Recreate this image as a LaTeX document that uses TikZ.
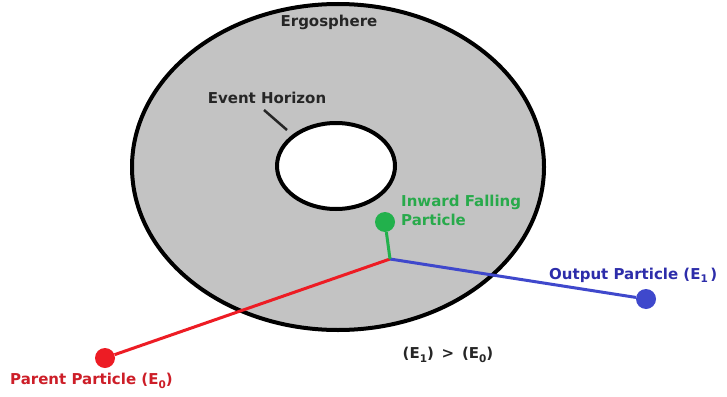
\documentclass[tikz,border=0pt]{standalone}
\usepackage{fontspec}
\setmainfont{DejaVu Sans}
\definecolor{ringgray}{RGB}{195,195,195}
\definecolor{pred}{RGB}{237,28,36}
\definecolor{pgreen}{RGB}{34,177,76}
\definecolor{pblue}{RGB}{63,72,204}
\definecolor{tred}{RGB}{205,30,40}
\definecolor{tgreen}{RGB}{40,170,75}
\definecolor{tblue}{RGB}{45,45,170}
\newcommand\subx[1]{\raisebox{-0.4ex}{\fontsize{10.5}{10.5}\selectfont #1}}
\tikzset{
  lbl/.style={font=\fontsize{15}{19}\selectfont\bfseries, inner sep=0pt},
  dot/.style={circle, minimum size=20pt, inner sep=0pt},
  ray/.style={line width=3pt},
}
\begin{document}
\begin{tikzpicture}[x=1pt,y=-1pt]
\useasboundingbox (0,0) rectangle (727,396);
\fill[white] (0,0) rectangle (727,396);
% ergosphere
\draw[line width=4pt, fill=ringgray] (338,167) ellipse [x radius=206, y radius=163];
% event horizon
\draw[line width=4pt, fill=white] (336,166) ellipse [x radius=59, y radius=43];
\node[lbl, text=black!85] (ergo) at (329,22) {Ergosphere};
\node[lbl, text=black!85] (eh) at (267,98) {Event Horizon};
\coordinate (ehp) at (287,130);
\draw[line width=2.5pt, black!85] (264,110) -- (ehp);
% particles
\coordinate (j) at (390,259);
\node[dot, fill=pgreen] (g) at (385,222) {};
\node[dot, fill=pred] (r) at (105,358) {};
\node[dot, fill=pblue] (b) at (646,299) {};
\draw[ray, pred] (j) -- (r);
\draw[ray, pblue] (j) -- (b);
\draw[ray, pgreen] (j) -- (g);
\node[lbl, text=tgreen, anchor=west, align=left] (gl) at (401,210) {Inward Falling\\Particle};
\node[lbl, text=tblue, anchor=west] (bl) at (549,275) {Output Particle (E\subx{1}\,)};
\node[lbl, text=tred, anchor=west] (rl) at (10,381) {Parent Particle (E\subx{0})};
\node[lbl, text=black!85] (ineq) at (448,355) {(E\subx{1}) \,>\, (E\subx{0})};
\end{tikzpicture}
\end{document}
